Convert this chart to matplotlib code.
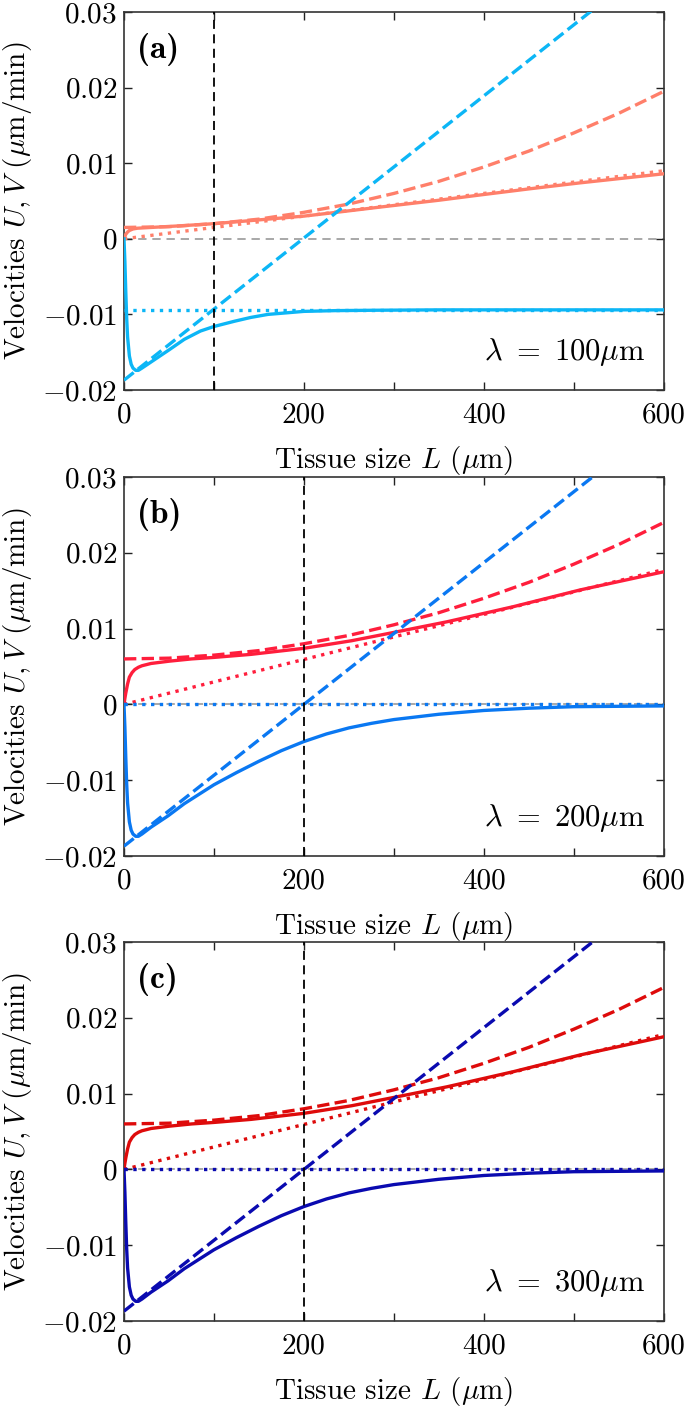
import matplotlib.pyplot as plt

# LaTeX-like look with the Computer Modern fonts bundled in matplotlib
plt.rcParams["font.family"] = "serif"
plt.rcParams["font.serif"] = ["cmr10"]
plt.rcParams["mathtext.fontset"] = "cm"
plt.rcParams["axes.formatter.use_mathtext"] = True
plt.rcParams["font.size"] = 21

panel_tags = ["(a)", "(b)", "(c)"]
lam_values = [100, 200, 300]
lam_marker = [100, 200, 200]  # vertical dashed line position

# Panel (a), lambda = 100 um
L_a_V = [0, 1, 2, 3, 4, 6, 8, 10, 13, 16, 20, 25, 35, 50, 67, 85, 100, 123, 141,
         160, 180, 200, 235, 280, 350, 450, 600]
V_a = [0.0, -0.003, -0.007, -0.0105, -0.013, -0.0155, -0.0166, -0.0171, -0.0174,
       -0.0174, -0.0171, -0.0167, -0.0159, -0.0147, -0.0133, -0.0122, -0.0116,
       -0.0109, -0.0104, -0.0100, -0.0098, -0.0096, -0.0095, -0.00945, -0.0094,
       -0.0094, -0.0094]
L_a_U = [0, 1, 2, 4, 6, 10, 15, 30, 60, 100, 150, 200, 236, 285, 350, 396, 450, 507, 600]
U_a = [0.0, 0.0003, 0.0006, 0.0009, 0.0011, 0.0013, 0.0014, 0.0015, 0.0017, 0.0020,
       0.0025, 0.0030, 0.0035, 0.0042, 0.0051, 0.0058, 0.0066, 0.0074, 0.0086]
L_a_Udash = [0, 50, 100, 150, 200, 250, 300, 350, 400, 450, 500, 550, 600]
U_a_dash = [0.0015, 0.0016, 0.0020, 0.0026, 0.0035, 0.0046, 0.0060, 0.0076, 0.0095,
            0.0116, 0.0140, 0.0166, 0.0195]
L_a_lin = [0, 600]
U_a_dot = [0.0, 0.0090]
V_a_dot = [-0.0094, -0.0094]
V_a_dash = [-0.0187, 0.0377]

# Panels (b) and (c), lambda = 200 and 300 um (curves coincide)
L_b_V = [0, 1, 2, 3, 4, 6, 8, 10, 13, 16, 20, 30, 49, 67, 100, 125, 150, 175,
         200, 225, 250, 275, 300, 350, 400, 450, 500, 600]
V_b = [0.0, -0.003, -0.007, -0.0105, -0.013, -0.0155, -0.0166, -0.0171, -0.0174,
       -0.0174, -0.0171, -0.0162, -0.0147, -0.0131, -0.0106, -0.0090, -0.0075,
       -0.0061, -0.0049, -0.0039, -0.0031, -0.0025, -0.0020, -0.0013, -0.0008,
       -0.0005, -0.0003, -0.0002]
L_b_U = [0, 1, 2, 4, 6, 9, 12, 16, 20, 30, 50, 75, 100, 141, 200, 253, 300, 359, 433,
         507, 600]
U_b = [0.0, 0.0008, 0.0015, 0.0027, 0.0036, 0.0042, 0.0046, 0.0049, 0.0051, 0.0054,
       0.0057, 0.0060, 0.0062, 0.0066, 0.0074, 0.0084, 0.0095, 0.0109, 0.0129,
       0.0151, 0.0175]
L_b_Udash = [0, 50, 100, 150, 200, 250, 300, 350, 400, 450, 500, 550, 600]
U_b_dash = [0.0060, 0.0061, 0.0065, 0.0071, 0.0080, 0.0091, 0.0105, 0.0121, 0.0140,
            0.0161, 0.0185, 0.0211, 0.0240]
L_b_lin = [0, 600]
U_b_dot = [0.0, 0.0178]
V_b_dot = [0.0, 0.0]
V_b_dash = [-0.0187, 0.0374]

panels = [
    (L_a_V, V_a, L_a_U, U_a, L_a_Udash, U_a_dash, L_a_lin, U_a_dot, V_a_dot, V_a_dash),
    (L_b_V, V_b, L_b_U, U_b, L_b_Udash, U_b_dash, L_b_lin, U_b_dot, V_b_dot, V_b_dash),
    (L_b_V, V_b, L_b_U, U_b, L_b_Udash, U_b_dash, L_b_lin, U_b_dot, V_b_dot, V_b_dash),
]
red_colors = ["#FF7F6A", "#FF1E3C", "#DE0B0B"]
blue_colors = ["#0CB6F6", "#0A78F2", "#0A0AB0"]

y_ticks = [-0.02, -0.01, 0.0, 0.01, 0.02, 0.03]
y_tick_labels = [r"$-0.02$", r"$-0.01$", r"$0$", r"$0.01$", r"$0.02$", r"$0.03$"]
x_ticks = [0, 200, 400, 600]

fig = plt.figure(figsize=(6.85, 14.1), dpi=100)
boxes = [
    [0.181, 0.7234, 0.788, 0.2681],
    [0.181, 0.3929, 0.788, 0.2688],
    [0.181, 0.0631, 0.788, 0.2688],
]
lw = 2.4

for i, box in enumerate(boxes):
    LV, V, LU, U, LUd, Ud, Llin, Udot, Vdot, Vdash = panels[i]
    red = red_colors[i]
    blue = blue_colors[i]
    ax = fig.add_axes(box)

    ax.axhline(0, color="#9a9a9a", lw=1.2, ls=(0, (5, 3.5)), zorder=1)

    ax.plot(LU, U, color=red, lw=lw, zorder=3)
    ax.plot(LUd, Ud, color=red, lw=lw, ls="--", zorder=3)
    ax.plot(Llin, Udot, color=red, lw=lw, ls=":", zorder=3)
    ax.plot(LV, V, color=blue, lw=lw, zorder=3)
    ax.plot(Llin, Vdot, color=blue, lw=lw, ls=":", zorder=3)
    ax.plot(Llin, Vdash, color=blue, lw=lw, ls="--", zorder=4)

    ax.axvline(lam_marker[i], color="black", lw=1.3, ls=(0, (5, 3)), zorder=5)

    ax.set_xlim(0, 600)
    ax.set_ylim(-0.02, 0.03)
    ax.set_xticks(x_ticks)
    ax.set_xticklabels([str(x) for x in x_ticks])
    ax.set_xticks([100, 300, 500], minor=True)
    ax.set_yticks(y_ticks)
    ax.set_yticklabels(y_tick_labels)
    ax.tick_params(which="both", direction="in", top=True, right=True,
                   length=6, width=1.0, color="#222222")
    ax.tick_params(axis="x", pad=9)
    ax.tick_params(axis="y", pad=5)
    for s in ax.spines.values():
        s.set_linewidth(1.2)
        s.set_color("#333333")

    ax.set_xlabel(r"Tissue size $L$ ($\mu$m)", labelpad=11)
    ax.set_ylabel(r"Velocities $U, V$ ($\mu$m/min)", labelpad=6)

    ax.text(0.024, 0.902, panel_tags[i], transform=ax.transAxes,
            ha="left", va="center", fontsize=24, family="cmb10")
    ax.text(0.965, 0.08, r"$\lambda\ =\ %d\mu{\rm m}$" % lam_values[i],
            transform=ax.transAxes, ha="right", va="baseline", fontsize=22)

fig.savefig("out.png", dpi=100)
